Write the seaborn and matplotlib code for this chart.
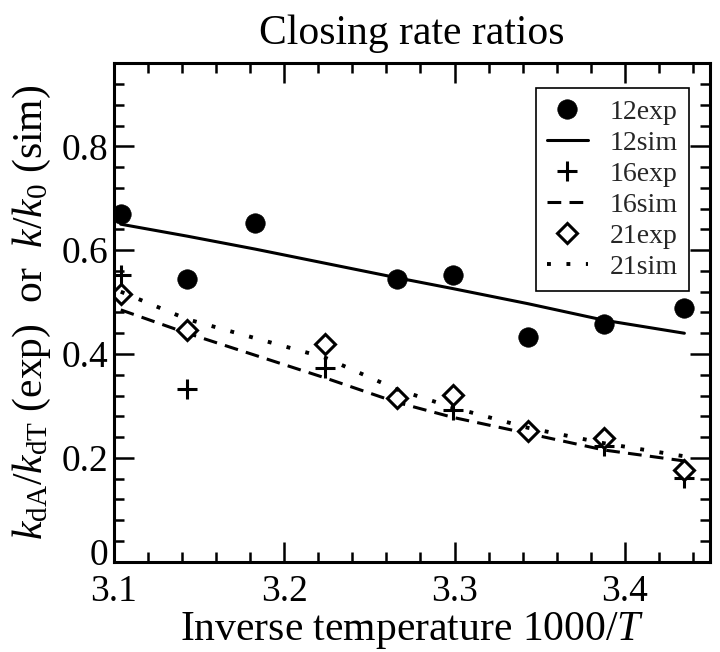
import numpy as np
import pandas as pd
import matplotlib
matplotlib.use("Agg")
import matplotlib.pyplot as plt
from matplotlib.ticker import MultipleLocator, FuncFormatter
from matplotlib.transforms import ScaledTranslation
import seaborn as sns

# ---- data ----
x12 = [3.104, 3.143, 3.183, 3.266, 3.299, 3.343, 3.388, 3.435]
exp12 = [0.670, 0.545, 0.652, 0.545, 0.552, 0.433, 0.458, 0.488]
sim12 = [0.650, 0.627, 0.602, 0.547, 0.526, 0.497, 0.465, 0.440]

x16 = [3.104, 3.143, 3.224, 3.266, 3.299, 3.343, 3.388, 3.435]
exp16 = [0.553, 0.332, 0.374, 0.316, 0.293, 0.252, 0.222, 0.162]
sim16 = [0.485, 0.440, 0.354, 0.307, 0.278, 0.247, 0.215, 0.194]

x21 = [3.104, 3.143, 3.224, 3.266, 3.299, 3.343, 3.388, 3.435]
exp21 = [0.516, 0.447, 0.419, 0.316, 0.321, 0.252, 0.238, 0.176]
sim21 = [0.520, 0.467, 0.393, 0.332, 0.297, 0.258, 0.228, 0.203]

labels = ["12exp", "12sim", "16exp", "16sim", "21exp", "21sim"]
xticks = [3.1, 3.2, 3.3, 3.4]
yticks = [0, 0.2, 0.4, 0.6, 0.8]

sns.set_theme(style="ticks")
plt.rcParams["font.family"] = ["Liberation Serif", "DejaVu Serif"]
plt.rcParams["mathtext.fontset"] = "custom"
plt.rcParams["mathtext.rm"] = "Liberation Serif"
plt.rcParams["mathtext.it"] = "Liberation Serif:italic"
plt.rcParams["mathtext.bf"] = "Liberation Serif:bold"

fig = plt.figure(figsize=(7.2, 6.52), dpi=100)
ax = fig.add_axes([0.1583, 0.1385, 0.8277, 0.7645])

lw = 2.2
def df(x, y):
    return pd.DataFrame({"x": x, "y": y})

sns.lineplot(data=df(x12, exp12), x="x", y="y", ax=ax, estimator=None, sort=False,
             linestyle="", marker="o", markersize=14, color="black",
             markeredgecolor="black", markeredgewidth=0.5, label=labels[0])
sns.lineplot(data=df(x12, sim12), x="x", y="y", ax=ax, estimator=None, sort=False,
             color="black", linewidth=lw, linestyle="-", label=labels[1])
sns.lineplot(data=df(x16, exp16), x="x", y="y", ax=ax, estimator=None, sort=False,
             linestyle="", marker="+", markersize=15, color="black",
             markeredgecolor="black", markeredgewidth=2.2, label=labels[2])
sns.lineplot(data=df(x16, sim16), x="x", y="y", ax=ax, estimator=None, sort=False,
             color="black", linewidth=lw, linestyle=(0, (4.5, 2.7)), label=labels[3])
sns.lineplot(data=df(x21, exp21), x="x", y="y", ax=ax, estimator=None, sort=False,
             linestyle="", marker="D", markersize=10.5, color="black",
             markerfacecolor="white", markeredgecolor="black", markeredgewidth=2.2,
             label=labels[4])
sns.lineplot(data=df(x21, sim21), x="x", y="y", ax=ax, estimator=None, sort=False,
             color="black", linewidth=lw + 0.6, linestyle=(0, (1.0, 4.0)), label=labels[5])

ax.set_xlim(3.1, 3.45)
ax.set_ylim(0, 0.96)
ax.set_xticks(xticks)
ax.set_yticks(yticks)
ax.xaxis.set_minor_locator(MultipleLocator(0.02))
ax.yaxis.set_minor_locator(MultipleLocator(0.04))
ax.xaxis.set_major_formatter(FuncFormatter(lambda v, p: f"{v:.1f}"))
ax.yaxis.set_major_formatter(FuncFormatter(lambda v, p: "0" if abs(v) < 1e-9 else f"{v:.1f}"))

ax.tick_params(which="both", direction="in", top=True, right=True, width=1.8,
               color="black", labelsize=27, labelcolor="black")
ax.tick_params(which="major", length=14.5)
ax.tick_params(which="minor", length=7.2)
ax.tick_params(axis="x", which="major", pad=9)
ax.tick_params(axis="y", which="major", pad=4)
for s in ax.spines.values():
    s.set_linewidth(2.2)
    s.set_color("black")
    s.set_visible(True)

ax.set_xlabel("Inverse temperature 1000/$T$", fontsize=30, color="black", labelpad=1)
ax.set_ylabel(r"$k_{\rm dA}/k_{\rm dT}$ (exp)  or  $k/k_0$ (sim)", fontsize=30,
              color="black", labelpad=6)
ax.set_title("Closing rate ratios", fontsize=30, color="black", pad=14)

# lift the "0" y tick label slightly so it does not collide with "3.1"
fig.canvas.draw()
for t in ax.get_yticklabels():
    if t.get_text() == "0":
        t.set_transform(t.get_transform() + ScaledTranslation(0, 7 / 72, fig.dpi_scale_trans))

handles, labs = ax.get_legend_handles_labels()
order = [labs.index(l) for l in labels]
leg = ax.legend([handles[i] for i in order], [labs[i] for i in order],
                loc="upper right", bbox_to_anchor=(0.965, 0.95), borderaxespad=0,
                fontsize=20, frameon=True, fancybox=False, framealpha=1,
                edgecolor="black", labelspacing=0.2, handlelength=1.45,
                handletextpad=0.8, borderpad=0.4)
leg.get_frame().set_linewidth(1.2)

fig.savefig("out.png", dpi=100)
